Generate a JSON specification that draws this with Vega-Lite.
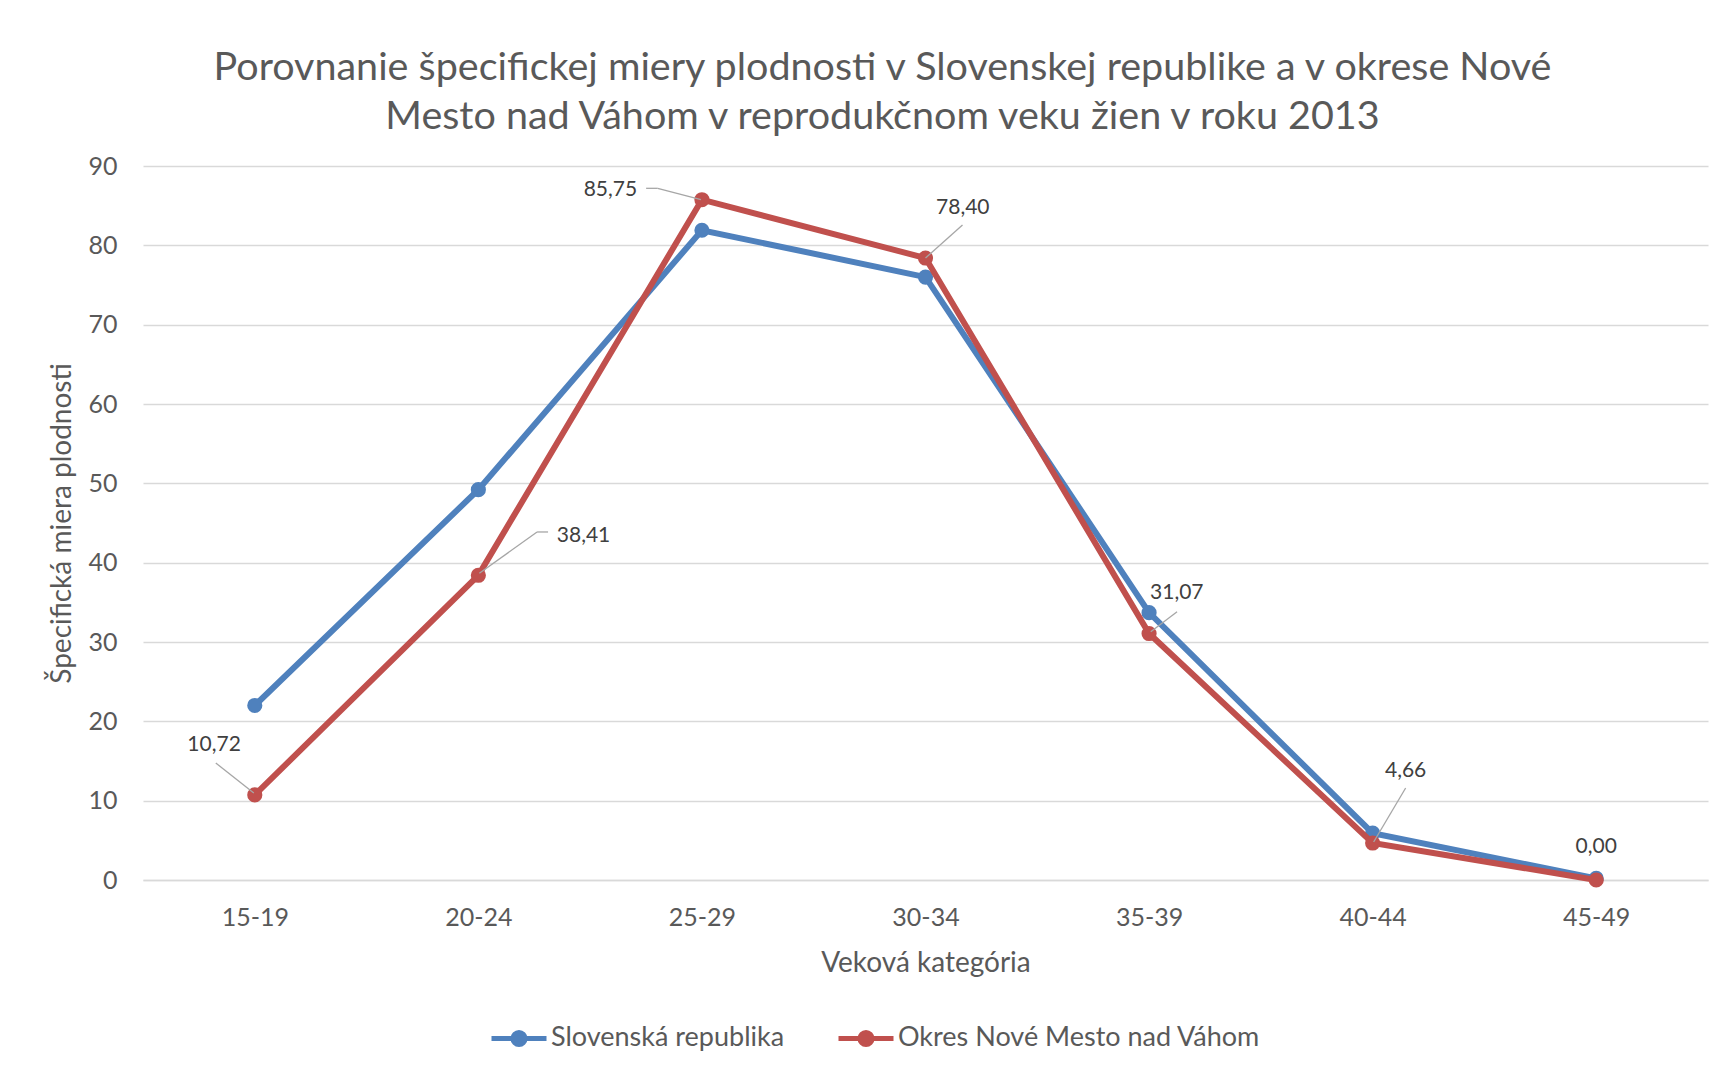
{
  "$schema": "https://vega.github.io/schema/vega-lite/v6.json",
  "width": 1565,
  "height": 714,
  "autosize": {"type": "none"},
  "padding": {"left": 143, "top": 166, "right": 8, "bottom": 192},
  "background": "white",
  "config": {
    "locale": {"number": {"decimal": ",", "thousands": " ", "grouping": [3], "currency": ["", ""]}},
    "view": {"stroke": null},
    "font": "Lato"
  },
  "title": {
    "text": ["Porovnanie špecifickej miery plodnosti v Slovenskej republike a v okrese Nové", "Mesto nad Váhom v reprodukčnom veku žien v roku 2013"],
    "font": "Lato",
    "fontSize": 39.5,
    "fontWeight": "normal",
    "color": "#595959",
    "anchor": "middle",
    "frame": "group",
    "dx": -43,
    "lineHeight": 49,
    "offset": 17
  },
  "data": {
    "values": [
      {"kat": "15-19", "seria": "Slovenská republika", "hodnota": 22.0},
      {"kat": "20-24", "seria": "Slovenská republika", "hodnota": 49.2},
      {"kat": "25-29", "seria": "Slovenská republika", "hodnota": 81.9},
      {"kat": "30-34", "seria": "Slovenská republika", "hodnota": 76.0},
      {"kat": "35-39", "seria": "Slovenská republika", "hodnota": 33.7},
      {"kat": "40-44", "seria": "Slovenská republika", "hodnota": 5.9},
      {"kat": "45-49", "seria": "Slovenská republika", "hodnota": 0.2},
      {"kat": "15-19", "seria": "Okres Nové Mesto nad Váhom", "hodnota": 10.72},
      {"kat": "20-24", "seria": "Okres Nové Mesto nad Váhom", "hodnota": 38.41},
      {"kat": "25-29", "seria": "Okres Nové Mesto nad Váhom", "hodnota": 85.75},
      {"kat": "30-34", "seria": "Okres Nové Mesto nad Váhom", "hodnota": 78.40},
      {"kat": "35-39", "seria": "Okres Nové Mesto nad Váhom", "hodnota": 31.07},
      {"kat": "40-44", "seria": "Okres Nové Mesto nad Váhom", "hodnota": 4.66},
      {"kat": "45-49", "seria": "Okres Nové Mesto nad Váhom", "hodnota": 0.00}
    ]
  },
  "encoding": {
    "x": {
      "field": "kat",
      "type": "ordinal",
      "scale": {"type": "point", "padding": 0.5},
      "axis": {
        "title": "Veková kategória",
        "titleFont": "Lato",
        "titleFontSize": 28,
        "titleFontWeight": "normal",
        "titleColor": "#595959",
        "titleBaseline": "middle",
        "titleY": 83,
        "labelFont": "Lato",
        "labelFontSize": 25,
        "labelColor": "#595959",
        "labelAngle": 0,
        "labelBaseline": "middle",
        "labelPadding": 37,
        "ticks": false,
        "tickSize": 0,
        "domain": true,
        "domainColor": "#d9d9d9",
        "domainWidth": 1.5,
        "grid": false
      }
    },
    "y": {
      "field": "hodnota",
      "type": "quantitative",
      "scale": {"domain": [0, 90], "nice": false},
      "axis": {
        "title": "Špecifická miera plodnosti",
        "titleFont": "Lato",
        "titleFontSize": 28,
        "titleFontWeight": "normal",
        "titleColor": "#595959",
        "titleBaseline": "middle",
        "titleX": -81,
        "values": [0, 10, 20, 30, 40, 50, 60, 70, 80, 90],
        "labelFont": "Lato",
        "labelFontSize": 25,
        "labelColor": "#595959",
        "labelPadding": 26,
        "ticks": false,
        "tickSize": 0,
        "domain": false,
        "grid": true,
        "gridColor": "#d9d9d9",
        "gridWidth": 1.5
      }
    }
  },
  "layer": [
    {
      "transform": [{"filter": "datum.seria === 'Slovenská republika'"}],
      "mark": {"type": "line", "strokeWidth": 6, "point": {"filled": true, "size": 230}},
      "encoding": {
        "color": {
          "field": "seria",
          "type": "nominal",
          "scale": {"domain": ["Slovenská republika", "Okres Nové Mesto nad Váhom"], "range": ["#4F81BD", "#C0504D"]},
          "legend": {
            "title": null,
            "orient": "none",
            "direction": "horizontal",
            "legendX": 346,
            "legendY": 842,
            "labelFont": "Lato",
            "labelFontSize": 27,
            "labelColor": "#595959",
            "labelLimit": 0,
            "labelOffset": 2,
            "columnPadding": 43,
            "symbolSize": 3025,
            "symbolType": "M-1,0H1M-0.22,0A0.22,0.22,0,1,1,0.22,0A0.22,0.22,0,1,1,-0.22,0Z",
            "symbolStrokeWidth": 5,
            "encode": {"symbols": {"update": {"fill": {"scale": "color", "field": "value"}, "stroke": {"scale": "color", "field": "value"}}}}
          }
        }
      }
    },
    {
      "transform": [{"filter": "datum.seria === 'Okres Nové Mesto nad Váhom'"}],
      "mark": {"type": "line", "strokeWidth": 6, "point": {"filled": true, "size": 230}},
      "encoding": {"color": {"field": "seria", "type": "nominal"}}
    },
    {
      "transform": [{"filter": "datum.seria === 'Okres Nové Mesto nad Váhom' && datum.kat === '15-19'"}],
      "mark": {"type": "rule", "color": "#a6a6a6", "strokeWidth": 1.3, "xOffset": -39, "yOffset": -32, "x2Offset": -1, "y2Offset": -2},
      "encoding": {"x2": {"field": "kat"}, "y2": {"field": "hodnota"}}
    },
    {
      "transform": [{"filter": "datum.seria === 'Okres Nové Mesto nad Váhom' && datum.kat === '20-24'"}],
      "mark": {"type": "rule", "color": "#a6a6a6", "strokeWidth": 1.3, "xOffset": 1, "yOffset": -2, "x2Offset": 58.7, "y2Offset": -43.3},
      "encoding": {"x2": {"field": "kat"}, "y2": {"field": "hodnota"}}
    },
    {
      "transform": [{"filter": "datum.seria === 'Okres Nové Mesto nad Váhom' && datum.kat === '20-24'"}],
      "mark": {"type": "rule", "color": "#a6a6a6", "strokeWidth": 1.3, "xOffset": 58.7, "yOffset": -43.3, "x2Offset": 69.7, "y2Offset": -43.3},
      "encoding": {"x2": {"field": "kat"}, "y2": {"field": "hodnota"}}
    },
    {
      "transform": [{"filter": "datum.seria === 'Okres Nové Mesto nad Váhom' && datum.kat === '25-29'"}],
      "mark": {"type": "rule", "color": "#a6a6a6", "strokeWidth": 1.3, "xOffset": -1, "yOffset": 0, "x2Offset": -44.2, "y2Offset": -11.4},
      "encoding": {"x2": {"field": "kat"}, "y2": {"field": "hodnota"}}
    },
    {
      "transform": [{"filter": "datum.seria === 'Okres Nové Mesto nad Váhom' && datum.kat === '25-29'"}],
      "mark": {"type": "rule", "color": "#a6a6a6", "strokeWidth": 1.3, "xOffset": -44.2, "yOffset": -11.4, "x2Offset": -55.8, "y2Offset": -11.4},
      "encoding": {"x2": {"field": "kat"}, "y2": {"field": "hodnota"}}
    },
    {
      "transform": [{"filter": "datum.seria === 'Okres Nové Mesto nad Váhom' && datum.kat === '30-34'"}],
      "mark": {"type": "rule", "color": "#a6a6a6", "strokeWidth": 1.3, "xOffset": 0, "yOffset": 0, "x2Offset": 37, "y2Offset": -33},
      "encoding": {"x2": {"field": "kat"}, "y2": {"field": "hodnota"}}
    },
    {
      "transform": [{"filter": "datum.seria === 'Okres Nové Mesto nad Váhom' && datum.kat === '35-39'"}],
      "mark": {"type": "rule", "color": "#a6a6a6", "strokeWidth": 1.3, "xOffset": 1.7, "yOffset": -1.8, "x2Offset": 28, "y2Offset": -21.8},
      "encoding": {"x2": {"field": "kat"}, "y2": {"field": "hodnota"}}
    },
    {
      "transform": [{"filter": "datum.seria === 'Okres Nové Mesto nad Váhom' && datum.kat === '40-44'"}],
      "mark": {"type": "rule", "color": "#a6a6a6", "strokeWidth": 1.3, "xOffset": 1, "yOffset": -1, "x2Offset": 33, "y2Offset": -55},
      "encoding": {"x2": {"field": "kat"}, "y2": {"field": "hodnota"}}
    },
    {
      "transform": [{"filter": "datum.seria === 'Okres Nové Mesto nad Váhom' && datum.kat === '15-19'"}],
      "mark": {"type": "text", "font": "Lato", "fontSize": 21, "color": "#404040", "align": "center", "baseline": "middle", "dx": -40.7, "dy": -50},
      "encoding": {"text": {"field": "hodnota", "type": "quantitative", "format": ".2f"}}
    },
    {
      "transform": [{"filter": "datum.seria === 'Okres Nové Mesto nad Váhom' && datum.kat === '20-24'"}],
      "mark": {"type": "text", "font": "Lato", "fontSize": 21, "color": "#404040", "align": "center", "baseline": "middle", "dx": 105.2, "dy": -39.3},
      "encoding": {"text": {"field": "hodnota", "type": "quantitative", "format": ".2f"}}
    },
    {
      "transform": [{"filter": "datum.seria === 'Okres Nové Mesto nad Váhom' && datum.kat === '25-29'"}],
      "mark": {"type": "text", "font": "Lato", "fontSize": 21, "color": "#404040", "align": "center", "baseline": "middle", "dx": -91.5, "dy": -9.7},
      "encoding": {"text": {"field": "hodnota", "type": "quantitative", "format": ".2f"}}
    },
    {
      "transform": [{"filter": "datum.seria === 'Okres Nové Mesto nad Váhom' && datum.kat === '30-34'"}],
      "mark": {"type": "text", "font": "Lato", "fontSize": 21, "color": "#404040", "align": "center", "baseline": "middle", "dx": 37.3, "dy": -50},
      "encoding": {"text": {"field": "hodnota", "type": "quantitative", "format": ".2f"}}
    },
    {
      "transform": [{"filter": "datum.seria === 'Okres Nové Mesto nad Váhom' && datum.kat === '35-39'"}],
      "mark": {"type": "text", "font": "Lato", "fontSize": 21, "color": "#404040", "align": "center", "baseline": "middle", "dx": 27.7, "dy": -40.2},
      "encoding": {"text": {"field": "hodnota", "type": "quantitative", "format": ".2f"}}
    },
    {
      "transform": [{"filter": "datum.seria === 'Okres Nové Mesto nad Váhom' && datum.kat === '40-44'"}],
      "mark": {"type": "text", "font": "Lato", "fontSize": 21, "color": "#404040", "align": "center", "baseline": "middle", "dx": 33, "dy": -72},
      "encoding": {"text": {"field": "hodnota", "type": "quantitative", "format": ".2f"}}
    },
    {
      "transform": [{"filter": "datum.seria === 'Okres Nové Mesto nad Váhom' && datum.kat === '45-49'"}],
      "mark": {"type": "text", "font": "Lato", "fontSize": 21, "color": "#404040", "align": "center", "baseline": "middle", "dx": 0, "dy": -33.3},
      "encoding": {"text": {"field": "hodnota", "type": "quantitative", "format": ".2f"}}
    }
  ]
}
